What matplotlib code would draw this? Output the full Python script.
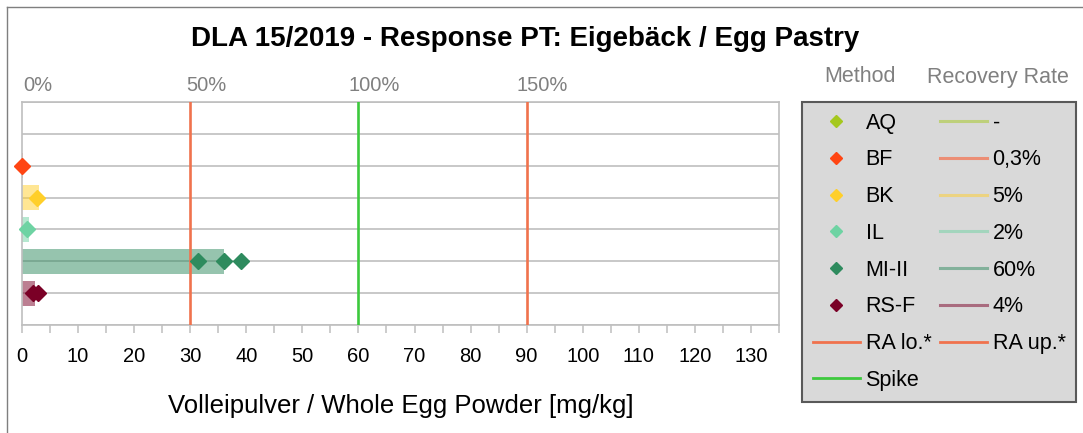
import matplotlib
matplotlib.use('Agg')
import matplotlib.pyplot as plt
from matplotlib.lines import Line2D
from matplotlib.transforms import ScaledTranslation
import numpy as np

plt.rcParams['font.family'] = ['Liberation Sans', 'DejaVu Sans']

# data
methods = ['AQ', 'BF', 'BK', 'IL', 'MI-II', 'RS-F']
recovery_pct = [np.nan, 0.3, 5, 2, 60, 4]
recovery_labels = ['-', '0,3%', '5%', '2%', '60%', '4%']
res_AQ = []
res_BF = [0.05]
res_BK = [2.7]
res_IL = [0.9]
res_MI = [31.3, 36.0, 39.1]
res_RS = [2.0, 2.9]
results = [res_AQ, res_BF, res_BK, res_IL, res_MI, res_RS]
spike = 60
ra_lo = 30
ra_up = 90

colors = ['#A5C81E', '#FF4513', '#FFCF2A', '#6ED3A3', '#2E8B5E', '#7A0026']
ra_color = '#F0724D'
spike_color = '#3DC93D'
grid_color = '#BFBFBF'

fig = plt.figure(figsize=(10.83, 4.33), dpi=100)
ax = fig.add_axes([22/1083, 1 - 325/433, (779 - 22)/1083, (325 - 102)/433])

rows = np.arange(1, len(methods) + 1)

# recovery bars
for y, rp, c in zip(rows, recovery_pct, colors):
    if not np.isnan(rp):
        ax.barh(y, rp / 100 * spike, height=0.78, color=c, alpha=0.5, lw=0, zorder=2)

# reference lines
ax.axvline(ra_lo, color=ra_color, lw=1.9, zorder=3)
ax.axvline(ra_up, color=ra_color, lw=1.9, zorder=3)
ax.axvline(spike, color=spike_color, lw=1.9, zorder=3)

# results
for y, vals, c in zip(rows, results, colors):
    if len(vals):
        ax.plot(vals, [y] * len(vals), ls='none', marker='D', ms=8, color=c,
                mec=c, zorder=4, clip_on=False)

ax.set_xlim(0, 135)
ax.set_ylim(7, 0)
ax.set_yticks(np.arange(0, 8))
ax.set_yticklabels([])
ax.tick_params(axis='y', length=0)
ax.grid(axis='y', color=grid_color, lw=1.2)
ax.set_axisbelow(True)

ax.set_xticks(np.arange(0, 131, 10))
ax.set_xticks(np.arange(0, 136, 5), minor=True)
ax.tick_params(axis='x', which='both', direction='out', length=6, width=1.1,
               color=grid_color, labelsize=14.5, pad=10)
for s in ax.spines.values():
    s.set_color(grid_color)
    s.set_linewidth(1.2)
ax.set_xlabel('Volleipulver / Whole Egg Powder [mg/kg]', fontsize=18.5, labelpad=20)

# recovery axis on top
sec = ax.secondary_xaxis('top', functions=(lambda x: x / spike * 100, lambda p: p / 100 * spike))
sec.set_xticks([0, 50, 100, 150])
sec.set_xticklabels(['0%', '50%', '100%', '150%'])
sec.tick_params(length=0, labelsize=14.5, labelcolor='#808080', pad=5)
sec.spines['top'].set_visible(False)
off = ScaledTranslation(16/100, 0, fig.dpi_scale_trans)
for lab in sec.get_xticklabels():
    lab.set_transform(lab.get_transform() + off)

fig.text(525/1083, 1 - 39/433, 'DLA 15/2019 - Response PT: Eigebäck / Egg Pastry',
         ha='center', va='center', fontsize=20, fontweight='bold')

# legend
col1 = [Line2D([], [], ls='none', marker='D', ms=6.5, color=c) for c in colors]
col1 += [Line2D([], [], color=ra_color, lw=2), Line2D([], [], color=spike_color, lw=2)]
col2 = [Line2D([], [], color=c, lw=2.2, alpha=0.5) for c in colors]
col2 += [Line2D([], [], color=ra_color, lw=2)]
labels = methods + ['RA lo.*', 'Spike'] + recovery_labels + ['RA up.*']
leg = fig.legend(col1 + col2, labels, ncol=2, loc='upper left',
                 bbox_to_anchor=(802/1083, 1 - 102/433), fontsize=15.5,
                 handlelength=2.2, handletextpad=0.25, columnspacing=0.4,
                 labelspacing=0.73, borderpad=0.5, borderaxespad=0,
                 fancybox=False, framealpha=1)
leg.get_frame().set_facecolor('#D9D9D9')
leg.get_frame().set_edgecolor('#595959')
leg.get_frame().set_linewidth(1.5)

fig.text(860/1083, 1 - 77/433, 'Method', ha='center', va='center', fontsize=15.5, color='#808080')
fig.text(998/1083, 1 - 77/433, 'Recovery Rate', ha='center', va='center', fontsize=15.5, color='#808080')

# outer chart border
fig.add_artist(Line2D([7/1083, 7/1083], [0, 1 - 7/433], color='#7F7F7F', lw=1))
fig.add_artist(Line2D([7/1083, 1], [1 - 7/433, 1 - 7/433], color='#7F7F7F', lw=1))

fig.savefig('out.png', dpi=100)
